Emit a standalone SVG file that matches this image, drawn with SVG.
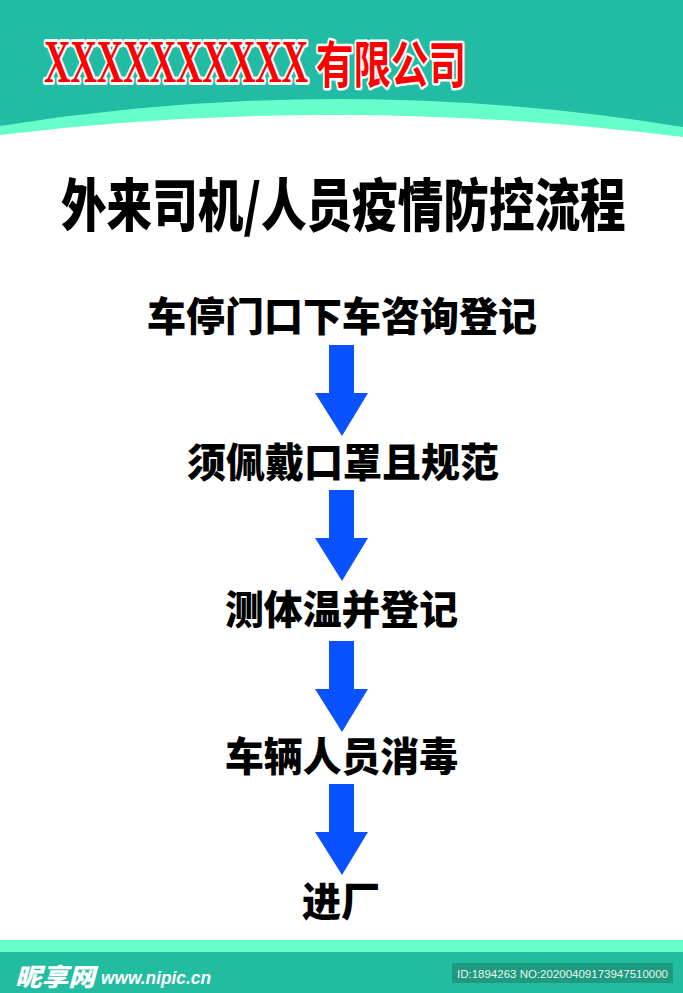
<svg xmlns="http://www.w3.org/2000/svg" width="683" height="993" viewBox="0 0 683 993">
<style>
.step{font-family:"Noto Sans CJK SC","Noto Sans",sans-serif;font-weight:900;fill:#000;font-size:40px}
.arrow{fill:#0A52FF}
</style>
<defs>
<path id="arr" d="M-13,0 H12 V48 H26 L0,91 L-27,48 H-13 Z"/>
</defs>
<rect width="683" height="993" fill="#fff"/>
<g id="header">
<path d="M0,0 H683 V137 Q341.5,94 0,135 Z" fill="#66FFCC"/>
<path d="M0,0 H683 V127 Q341.5,71.5 0,126 Z" fill="#22BCA5"/>
<text x="0" y="0" transform="translate(44,82) scale(0.59,1)" font-family="Liberation Serif,serif" font-weight="700" font-size="62" fill="#F00" stroke="#fff" stroke-width="6" paint-order="stroke" stroke-linejoin="round">XXXXXXXXXX</text>
<text x="316" y="83" font-family="Noto Sans CJK SC,sans-serif" font-weight="700" font-size="50" fill="#F00" stroke="#fff" stroke-width="5" paint-order="stroke" stroke-linejoin="round" textLength="150" lengthAdjust="spacingAndGlyphs">有限公司</text>
</g>
<g id="title">
<text x="0" y="0" transform="translate(61,226) scale(0.8,1)" font-family="Noto Sans CJK SC,sans-serif" font-weight="900" font-size="57" fill="#000">外来司机/人员疫情防控流程</text>
</g>
<g id="step1"><text class="step" x="147" y="331" textLength="390" lengthAdjust="spacingAndGlyphs">车停门口下车咨询登记</text></g>
<g id="step2"><text class="step" x="187" y="477" textLength="312" lengthAdjust="spacingAndGlyphs">须佩戴口罩且规范</text></g>
<g id="step3"><text class="step" x="225" y="624" textLength="233" lengthAdjust="spacingAndGlyphs">测体温并登记</text></g>
<g id="step4"><text class="step" x="225" y="771" textLength="233" lengthAdjust="spacingAndGlyphs">车辆人员消毒</text></g>
<g id="step5"><text class="step" x="302" y="916" textLength="78" lengthAdjust="spacingAndGlyphs">进厂</text></g>
<g id="connectors">
<use href="#arr" class="arrow" x="342" y="345"/>
<use href="#arr" class="arrow" x="342" y="490"/>
<use href="#arr" class="arrow" x="342" y="641"/>
<use href="#arr" class="arrow" x="342" y="784"/>
</g>
<g id="footer">
<rect x="0" y="940" width="683" height="12" fill="#66FFCC"/>
<rect x="0" y="952" width="683" height="41" fill="#22BCA0"/>
<text x="15" y="986" font-family="Noto Sans CJK SC,sans-serif" font-weight="900" font-style="italic" font-size="25" fill="#fff" textLength="80" lengthAdjust="spacingAndGlyphs">昵享网</text>
<text x="101" y="984" font-family="Liberation Sans,sans-serif" font-weight="700" font-style="italic" font-size="19" fill="#fff" textLength="110" lengthAdjust="spacingAndGlyphs">www.nipic.cn</text>
<rect x="452" y="963" width="221" height="20" fill="#1E9A80"/>
<text x="562.5" y="977.5" text-anchor="middle" font-family="Liberation Sans,sans-serif" font-size="11.5" fill="#E8F5F0">ID:1894263 NO:20200409173947510000</text>
</g>
</svg>
